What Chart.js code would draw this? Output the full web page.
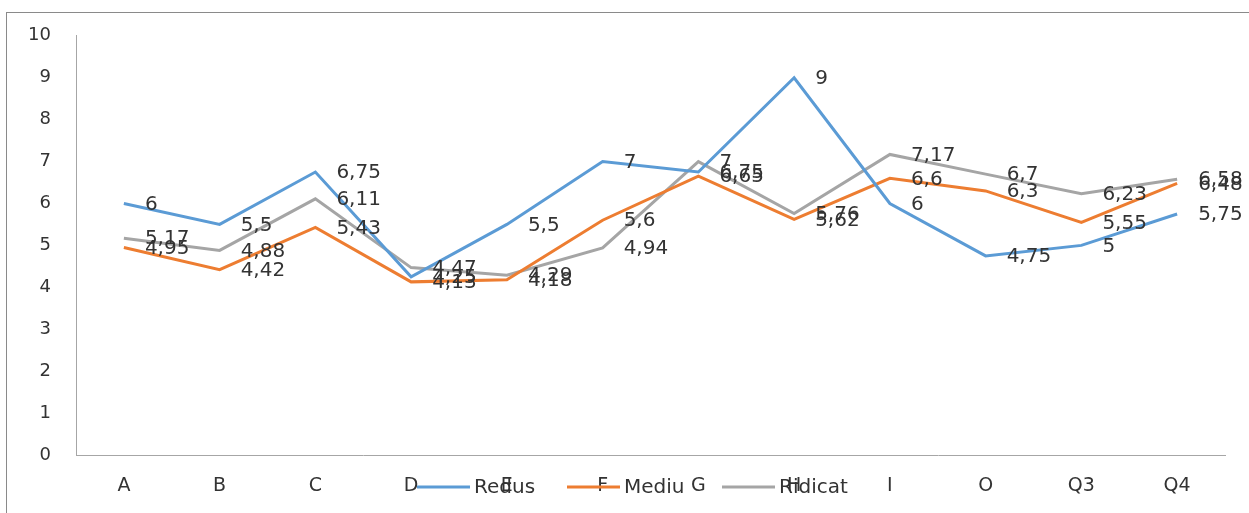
<!DOCTYPE html>
<html>
<head>
<meta charset="utf-8">
<script src="https://cdn.jsdelivr.net/npm/chart.js@4"></script>
<style>
  html, body { margin: 0; padding: 0; background: #fff; }
  #chart { display: block; }
</style>
</head>
<body>
<canvas id="chart" width="1249" height="513"></canvas>
<script>
// ─── Data ─────────────────────────────────────────────────────────────────
const categories = ['A', 'B', 'C', 'D', 'E', 'F', 'G', 'H', 'I', 'O', 'Q3', 'Q4'];
const seriesNames = ['Redus', 'Mediu', 'Ridicat'];
const redus   = [6, 5.5, 6.75, 4.25, 5.5, 7, 6.75, 9, 6, 4.75, 5, 5.75];
const mediu   = [4.95, 4.42, 5.43, 4.13, 4.18, 5.6, 6.65, 5.62, 6.6, 6.3, 5.55, 6.48];
const ridicat = [5.17, 4.88, 6.11, 4.47, 4.29, 4.94, 7, 5.76, 7.17, 6.7, 6.23, 6.58];
const yMin = 0, yMax = 10, yStep = 1;

const COLORS = ['#5B9BD5', '#ED7D31', '#A5A5A5'];
const FONT = '"DejaVu Sans", sans-serif';
const TEXT = '#333333';

// comma decimals, like the original
const fmt = v => String(v).replace('.', ',');

// ─── Plugins ──────────────────────────────────────────────────────────────
const frame = {
  id: 'frame',
  beforeDraw(chart) {
    const { ctx } = chart;
    ctx.save();
    ctx.fillStyle = '#fff';
    ctx.fillRect(0, 0, chart.width, chart.height);
    ctx.strokeStyle = '#8a8a8a';
    ctx.lineWidth = 1;
    ctx.strokeRect(6.5, 12.5, chart.width + 20, chart.height + 20);
    ctx.restore();
  }
};

const pointLabels = {
  id: 'pointLabels',
  afterDatasetsDraw(chart) {
    const { ctx } = chart;
    ctx.save();
    ctx.font = '20px ' + FONT;
    ctx.fillStyle = TEXT;
    ctx.textAlign = 'left';
    ctx.textBaseline = 'middle';
    chart.data.datasets.forEach((ds, i) => {
      chart.getDatasetMeta(i).data.forEach((pt, j) => {
        ctx.fillText(fmt(ds.data[j]), pt.x + 21, pt.y + 1);
      });
    });
    ctx.restore();
  }
};

const legendStarts = [417, 567, 722];
const bottomLegend = {
  id: 'bottomLegend',
  afterDraw(chart) {
    const { ctx } = chart;
    const y = 487;
    ctx.save();
    ctx.font = '20px ' + FONT;
    ctx.textAlign = 'left';
    ctx.textBaseline = 'middle';
    chart.data.datasets.forEach((ds, i) => {
      const x = legendStarts[i];
      ctx.strokeStyle = ds.borderColor;
      ctx.lineWidth = 3;
      ctx.beginPath();
      ctx.moveTo(x, y);
      ctx.lineTo(x + 53, y);
      ctx.stroke();
      ctx.fillStyle = TEXT;
      ctx.fillText(ds.label, x + 57, y + 1);
    });
    ctx.restore();
  }
};

// ─── Chart ────────────────────────────────────────────────────────────────
const datasets = [redus, mediu, ridicat].map((data, i) => ({
  label: seriesNames[i],
  data,
  borderColor: COLORS[i],
  backgroundColor: COLORS[i],
  borderWidth: 3,
  pointRadius: 0,
  tension: 0,
  fill: false,
}));

new Chart(document.getElementById('chart'), {
  type: 'line',
  data: { labels: categories, datasets },
  options: {
    responsive: false,
    animation: false,
    layout: { padding: { left: 0, top: 33, right: 24, bottom: 0 } },
    plugins: { legend: { display: false }, tooltip: { enabled: false } },
    scales: {
      x: {
        offset: true,
        afterFit: s => { s.height = 58; },
        grid: { display: false, drawTicks: false },
        border: { display: true, color: '#a6a6a6', width: 1 },
        ticks: { color: TEXT, font: { family: FONT, size: 19 }, padding: 20, maxRotation: 0 },
      },
      y: {
        min: yMin, max: yMax,
        afterFit: s => { s.width = 76; },
        grid: { display: false, drawTicks: false },
        border: { display: true, color: '#a6a6a6', width: 1 },
        ticks: { stepSize: yStep, color: TEXT, font: { family: FONT, size: 18 }, padding: 25 },
      }
    }
  },
  plugins: [frame, pointLabels, bottomLegend]
});
</script>
</body>
</html>
